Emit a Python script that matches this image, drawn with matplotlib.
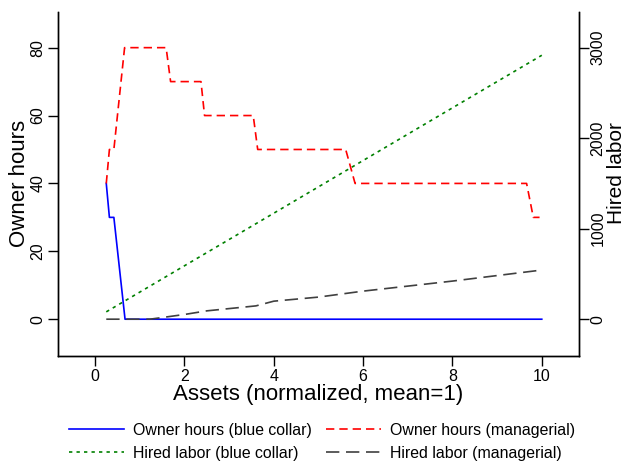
import matplotlib
matplotlib.use("Agg")
import matplotlib.pyplot as plt

plt.rcParams["font.family"] = ["Liberation Sans", "DejaVu Sans"]

# owner hours (left axis)
blue_x = [0.25, 0.32, 0.42, 0.67, 10.0]
blue_y = [40, 30, 30, 0, 0]

red_x = [0.25, 0.32, 0.42, 0.50, 0.58, 0.66, 1.59, 1.69, 2.37, 2.45, 3.54, 3.64, 5.61, 5.82, 9.66, 9.81, 9.95]
red_y = [40, 50, 50, 60, 70, 80, 80, 70, 70, 60, 60, 50, 50, 40, 40, 30, 30]

# hired labor (right axis)
green_x = [0.25, 2, 4, 6, 8, 10]
green_y = [81, 590, 1171, 1753, 2335, 2916]

gray_x = [0.25, 1.23, 2.0, 2.5, 3.6, 4.0, 5.0, 6.0, 8.0, 10.0]
gray_y = [0, 0, 52, 92, 147, 199, 244, 310, 421, 543]

fig = plt.figure(figsize=(6.26, 4.62), dpi=100)
ax = fig.add_axes([0.0927, 0.229, 0.832, 0.745])
ax2 = ax.twinx()

l1, = ax.plot(blue_x, blue_y, color="#0000ff", lw=1.2, label="Owner hours (blue collar)")
l2, = ax.plot(red_x, red_y, color="#ff0000", lw=1.2, dashes=(5, 3), label="Owner hours (managerial)")
l3, = ax2.plot(green_x, green_y, color="#008000", lw=1.2, dashes=(2, 2.5), label="Hired labor (blue collar)")
l4, = ax2.plot(gray_x, gray_y, color="#404040", lw=1.2, dashes=(8, 4), label="Hired labor (managerial)")

ax.set_xlim(-0.83, 10.83)
ax.set_ylim(-10.9, 90.5)
ax2.set_ylim(-409, 3394)

ax.set_xticks([0, 2, 4, 6, 8, 10])
ax.set_yticks([0, 20, 40, 60, 80])
ax2.set_yticks([0, 1000, 2000, 3000])

for a in (ax, ax2):
    a.tick_params(length=7, width=1, labelsize=11.5, pad=2)
    for s in a.spines.values():
        s.set_linewidth(1)
ax.tick_params(axis="y", labelrotation=90)
ax2.tick_params(axis="y", labelrotation=90, pad=1.2)
for t in ax.get_yticklabels() + ax2.get_yticklabels():
    t.set_verticalalignment("center")

ax.spines["top"].set_visible(False)
ax2.spines["top"].set_visible(False)

ax.set_xlabel("Assets (normalized, mean=1)", fontsize=16, labelpad=0)
fig.text(19.5 / 626, 1 - 183 / 462, "Owner hours", fontsize=16, rotation=90,
         ha="center", va="center")
fig.text(617 / 626, 1 - 173 / 462, "Hired labor", fontsize=15, rotation=90,
         ha="center", va="center")

fig.legend(handles=[l1, l3, l2, l4], loc="center", bbox_to_anchor=(0.514, 0.044),
           ncol=2, frameon=False, fontsize=11.4, handlelength=3.5,
           columnspacing=0.9, handletextpad=0.55, labelspacing=0.5)

fig.savefig("out.png", dpi=100)
